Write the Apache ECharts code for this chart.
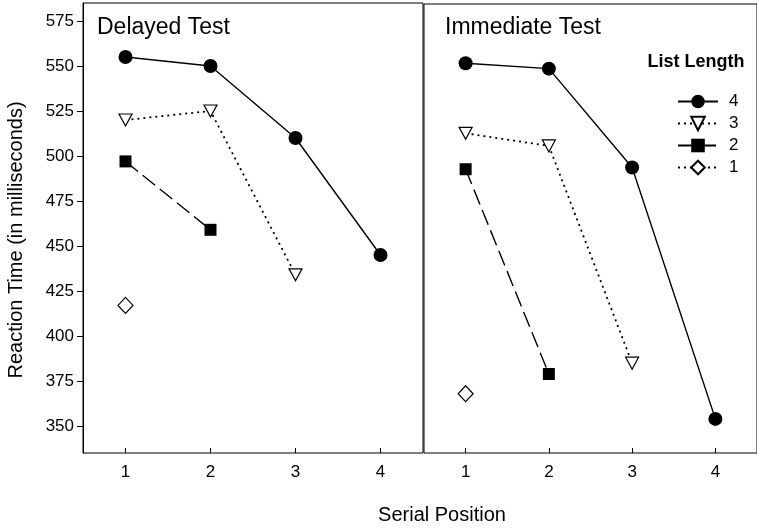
<!DOCTYPE html>
<html>
<head>
<meta charset="utf-8">
<script src="https://cdn.jsdelivr.net/npm/echarts@6/dist/echarts.min.js"></script>
<style>
  html, body { margin: 0; padding: 0; background: #fff; }
  #chart { width: 757px; height: 528px; }
</style>
</head>
<body>
<div id="chart"></div>
<script>
// Serial positions shared by both panels
const positions = ['1', '2', '3', '4'];
const yTicks = [350, 375, 400, 425, 450, 475, 500, 525, 550, 575];
const listLengths = ['4', '3', '2', '1'];

// Delayed test: mean reaction time (ms) per serial position, by list length
const delayedLen4 = [555, 550, 510, 445];
const delayedLen3 = [520, 525, 434];
const delayedLen2 = [497, 459];
const delayedLen1 = [417];

// Immediate test
const immediateLen4 = [552, 549, 494, 354];
const immediateLen3 = [513, 506, 385];
const immediateLen2 = [493, 379];
const immediateLen1 = [368];

const FONT = 'Liberation Sans, Arial, sans-serif';

const styles = {
  '4': { symbol: 'circle', symbolSize: 14, symbolRotate: 0,
         itemStyle: { color: '#000', borderColor: '#000', borderWidth: 0 },
         lineStyle: { color: '#000', width: 1.4, type: 'solid' } },
  '3': { symbol: 'triangle', symbolSize: [13, 12], symbolRotate: 180,
         itemStyle: { color: '#fff', borderColor: '#000', borderWidth: 1.2 },
         lineStyle: { color: '#000', width: 1.8, type: [2, 4] } },
  '2': { symbol: 'rect', symbolSize: 12, symbolRotate: 0,
         itemStyle: { color: '#000', borderColor: '#000', borderWidth: 0 },
         lineStyle: { color: '#000', width: 1.4, type: [16, 6] } },
  '1': { symbol: 'diamond', symbolSize: [15, 16], symbolRotate: 0,
         itemStyle: { color: '#fff', borderColor: '#000', borderWidth: 1.2 },
         lineStyle: { color: '#000', width: 1.8, type: [2, 4] } }
};

function lineSeries(name, data, idx) {
  const s = styles[name];
  return {
    type: 'line', name: name, data: data,
    xAxisIndex: idx, yAxisIndex: idx,
    symbol: s.symbol, symbolSize: s.symbolSize, symbolRotate: s.symbolRotate,
    itemStyle: s.itemStyle, lineStyle: s.lineStyle,
    emphasis: { disabled: true }, animation: false, z: 3
  };
}

function xAxisFor(idx) {
  return {
    type: 'category', gridIndex: idx, data: positions, boundaryGap: true,
    axisLine: { show: false },
    axisTick: { show: true, inside: true, length: 5, alignWithLabel: true,
                lineStyle: { color: '#000', width: 1 } },
    axisLabel: { color: '#000', fontSize: 17, fontFamily: FONT, margin: 11 },
    splitLine: { show: false }
  };
}

function yAxisFor(idx, withLabels) {
  return {
    type: 'value', gridIndex: idx, min: 335, max: 585,
    axisLine: { show: withLabels, lineStyle: { color: '#000', width: 1 } },
    axisTick: { show: withLabels, inside: false, length: 6, customValues: yTicks,
                lineStyle: { color: '#000', width: 1 } },
    axisLabel: { show: withLabels, customValues: yTicks, color: '#000',
                 fontSize: 17, fontFamily: FONT, margin: 9 },
    splitLine: { show: false }
  };
}

const chart = echarts.init(document.getElementById('chart'), null, { renderer: 'canvas' });

chart.setOption({
  backgroundColor: '#fff',
  animation: false,
  grid: [
    { left: 83, top: 3, width: 340, height: 450, show: true,
      borderColor: '#000', borderWidth: 1, backgroundColor: 'transparent' },
    { left: 424, top: 4, width: 340, height: 449, show: true,
      borderColor: '#000', borderWidth: 1, backgroundColor: 'transparent' }
  ],
  xAxis: [xAxisFor(0), xAxisFor(1)],
  yAxis: [yAxisFor(0, true), yAxisFor(1, false)],
  legend: {
    data: listLengths, orient: 'vertical', left: 677, top: 93, padding: 0,
    itemWidth: 40, itemHeight: 17, itemGap: 5, selectedMode: false,
    textStyle: { color: '#000', fontSize: 17, fontFamily: FONT, padding: [0, 0, 0, 6] }
  },
  graphic: [
    { type: 'text', left: 97, top: 16,
      style: { text: 'Delayed Test', font: '23px ' + FONT, fill: '#000' } },
    { type: 'text', left: 445, top: 16,
      style: { text: 'Immediate Test', font: '23px ' + FONT, fill: '#000' } },
    { type: 'text', x: 696, y: 62,
      style: { text: 'List Length', font: 'bold 18px ' + FONT, fill: '#000',
               textAlign: 'center', textVerticalAlign: 'middle' } },
    { type: 'text', x: 16, y: 240, rotation: Math.PI / 2,
      style: { text: 'Reaction Time (in milliseconds)', font: '20px ' + FONT, fill: '#000',
               textAlign: 'center', textVerticalAlign: 'middle' } },
    { type: 'text', x: 442, y: 515,
      style: { text: 'Serial Position', font: '20px ' + FONT, fill: '#000',
               textAlign: 'center', textVerticalAlign: 'middle' } }
  ],
  series: [
    lineSeries('4', delayedLen4, 0),
    lineSeries('3', delayedLen3, 0),
    lineSeries('2', delayedLen2, 0),
    lineSeries('1', delayedLen1, 0),
    lineSeries('4', immediateLen4, 1),
    lineSeries('3', immediateLen3, 1),
    lineSeries('2', immediateLen2, 1),
    lineSeries('1', immediateLen1, 1)
  ]
});
</script>
</body>
</html>
